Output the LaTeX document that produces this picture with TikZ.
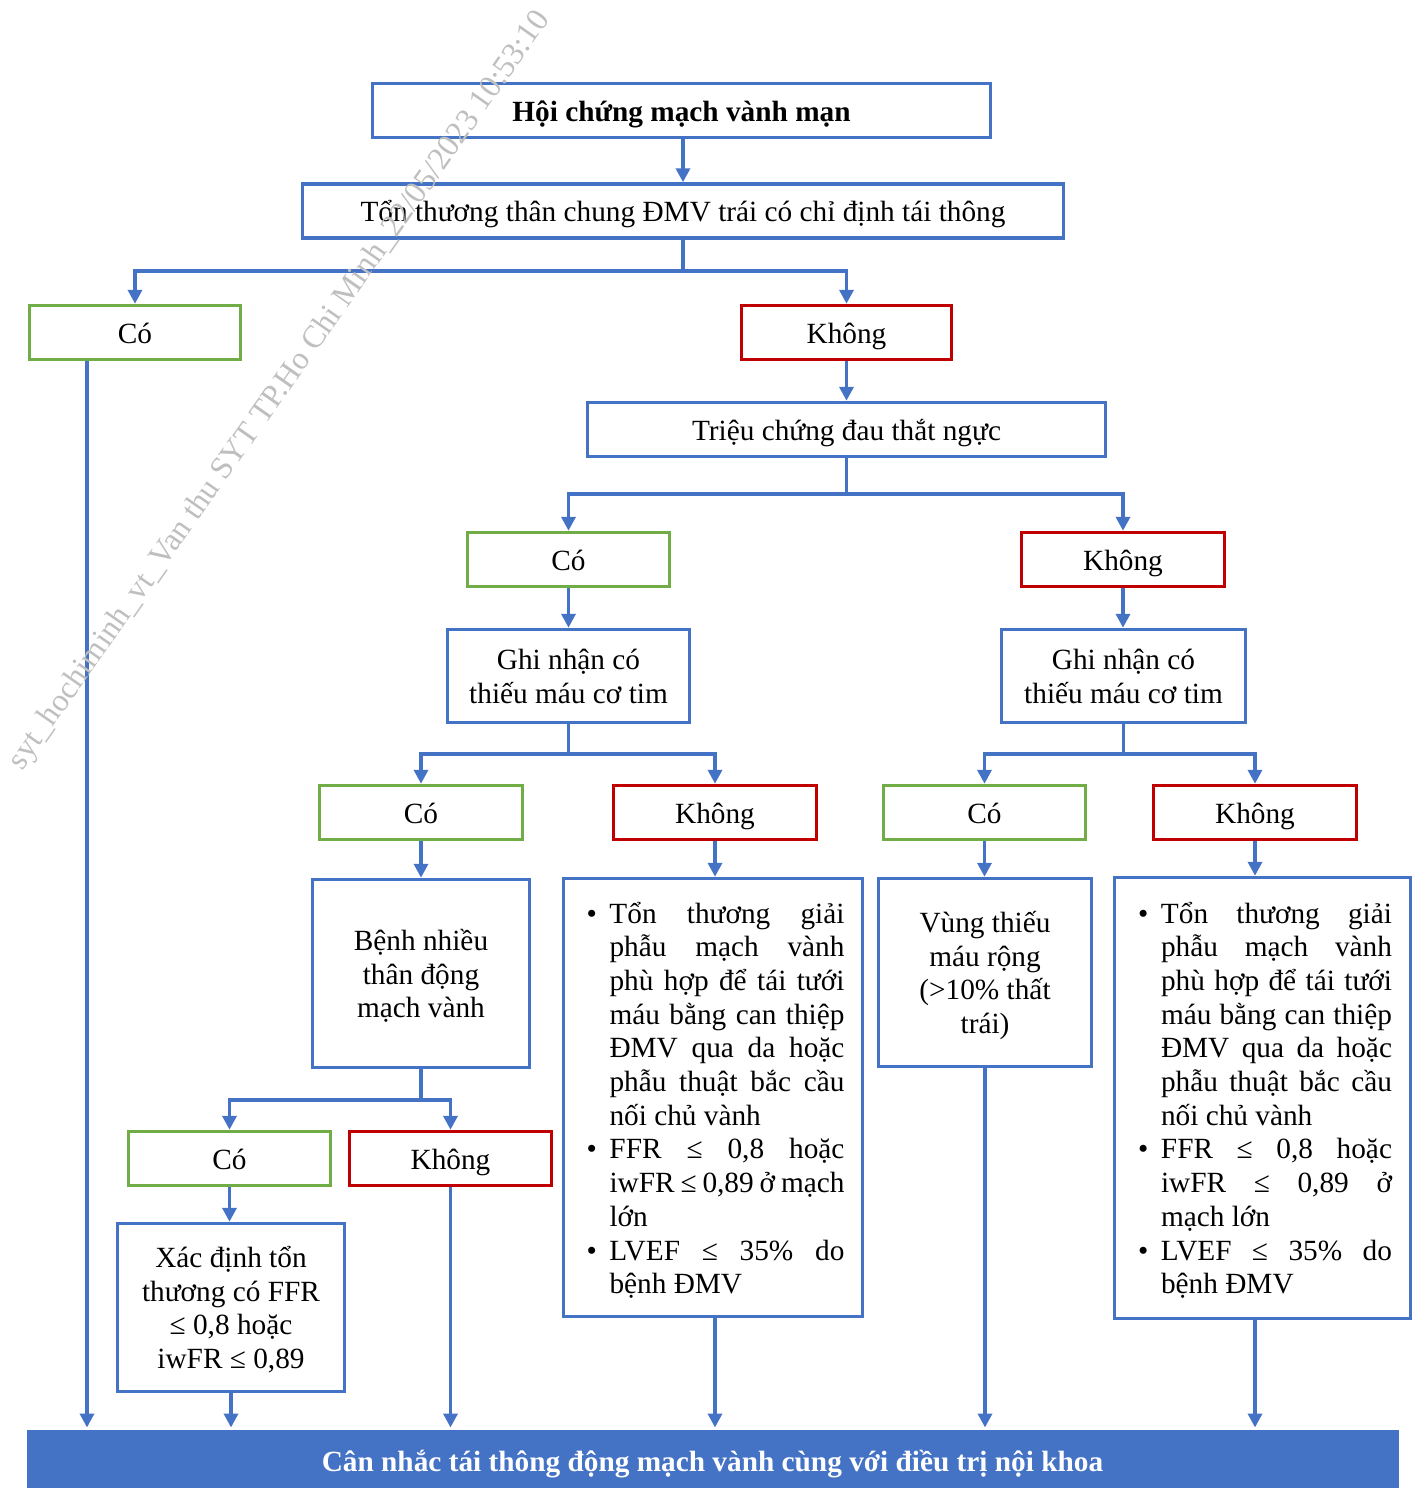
\documentclass[tikz,border=0pt]{standalone}
\usepackage{fontspec}
\setmainfont{Liberation Serif}
\usetikzlibrary{arrows.meta}
\definecolor{bl}{HTML}{4472C4}
\definecolor{gr}{HTML}{70AD47}
\definecolor{rd}{HTML}{C00000}
\newcommand\bitem[1]{\par\noindent\hangindent=28pt\hangafter=1\makebox[28pt][l]{\hspace{5pt}•}#1}
\newcommand\bullets[3]{\raisebox{0pt}[26pt][#2]{\parbox[t]{#1}{\lineskiplimit=-100pt\tolerance=10000\hbadness=10000\parindent=0pt #3}}}
\newcommand\ml[2]{\raisebox{0pt}[26pt][#1]{\vtop{\lineskiplimit=-100pt\halign{\hfil##\hfil\cr#2\crcr}}}}
\begin{document}
\begin{tikzpicture}[x=1pt,y=-1pt,
  box/.style={draw=bl, line width=3.5pt, inner sep=0pt, minimum height=54pt},
  one/.style={text height=26pt, text depth=5pt},
  yes/.style={box, one, draw=gr},
  no/.style={box, one, draw=rd},
  arr/.style={draw=bl, line width=3.5pt, -{Triangle[length=14pt,width=14pt]}},
  font=\fontsize{29.3}{33.7}\selectfont]
\useasboundingbox (0,0) rectangle (1419,1488);

\node[box, one, minimum width=618pt, font=\fontsize{29.3}{33.7}\selectfont\bfseries] (n1) at (681.5,110.5) {Hội chứng mạch vành mạn};
\node[box, one, minimum width=761pt] (n2) at (683,211) {Tổn thương thân chung ĐMV trái có chỉ định tái thông};
\node[yes, minimum width=211pt] (coA) at (135,332.5) {Có};
\node[no, minimum width=210pt] (koA) at (846.5,332.5) {Không};
\node[box, one, minimum width=518pt] (n3) at (846.5,429.5) {Triệu chứng đau thắt ngực};
\node[yes, minimum width=202pt] (coB) at (568.5,559.5) {Có};
\node[no, minimum width=203pt] (koB) at (1123,559.5) {Không};
\node[box, minimum width=242pt, minimum height=93pt] (ghiL) at (568.5,676) {\ml{38.7pt}{Ghi nhận có\cr thiếu máu cơ tim}};
\node[box, minimum width=244pt, minimum height=93pt] (ghiR) at (1123.5,676) {\ml{38.7pt}{Ghi nhận có\cr thiếu máu cơ tim}};
\node[yes, minimum width=203pt] (coC) at (421,812.5) {Có};
\node[no, minimum width=203pt] (koC) at (715,812.5) {Không};
\node[yes, minimum width=202pt] (coD) at (984.5,812.5) {Có};
\node[no, minimum width=203pt] (koD) at (1255,812.5) {Không};
\node[box, minimum width=217pt, minimum height=188pt] (benh) at (421,973.5) {\ml{72.4pt}{Bệnh nhiều\cr thân động\cr mạch vành}};
\node[box, minimum width=299pt, minimum height=438pt] (bulL) at (713,1097.5) {\bullets{263pt}{375pt}{%
\bitem{Tổn thương giải\linebreak phẫu mạch vành\linebreak phù hợp để tái tưới\linebreak máu bằng can thiệp\linebreak ĐMV qua da hoặc\linebreak phẫu thuật bắc cầu\linebreak nối chủ vành}
\bitem{FFR ≤ 0,8 hoặc\linebreak iwFR ≤ 0,89 ở mạch\linebreak lớn}
\bitem{LVEF ≤ 35\% do\linebreak bệnh ĐMV}}};
\node[box, minimum width=213pt, minimum height=188pt] (vung) at (985,972.5) {\ml{106.1pt}{Vùng thiếu\cr máu rộng\cr (>10\% thất\cr trái)}};
\node[box, minimum width=296pt, minimum height=441pt] (bulR) at (1262.5,1098) {\bullets{259pt}{376pt}{%
\bitem{Tổn thương giải\linebreak phẫu mạch vành\linebreak phù hợp để tái tưới\linebreak máu bằng can thiệp\linebreak ĐMV qua da hoặc\linebreak phẫu thuật bắc cầu\linebreak nối chủ vành}
\bitem{FFR ≤ 0,8 hoặc\linebreak iwFR ≤ 0,89 ở\linebreak mạch lớn}
\bitem{LVEF ≤ 35\% do\linebreak bệnh ĐMV}}};
\node[yes, minimum width=202pt] (coE) at (229.5,1158.5) {Có};
\node[no, minimum width=202pt] (koE) at (450.5,1158.5) {Không};
\node[box, minimum width=227pt, minimum height=168pt] (xac) at (231,1307.5) {\ml{106.1pt}{Xác định tổn\cr thương có FFR\cr ≤ 0,8 hoặc\cr iwFR ≤ 0,89}};
\node[fill=bl, draw=bl, line width=1pt, minimum width=1371pt, minimum height=58pt, inner sep=0pt, text=white, text height=26pt, text depth=0.6pt, font=\fontsize{29.3}{33.7}\selectfont\bfseries] (bar) at (712.5,1459) {Cân nhắc tái thông động mạch vành cùng với điều trị nội khoa};

% connectors
\draw[arr] (n2.north |- n1.south) -- (n2.north);
\draw[arr] (n2.south) -- (n2.south |- 0,271) -| (coA.north);
\draw[arr] (n2.south) -- (n2.south |- 0,271) -| (koA.north);
\draw[arr] (koA.south) -- (n3.north -| koA.south);
\draw[arr] (n3.south) -- (n3.south |- 0,494) -| (coB.north);
\draw[arr] (n3.south) -- (n3.south |- 0,494) -| (koB.north);
\draw[arr] (coB.south) -- (ghiL.north -| coB.south);
\draw[arr] (koB.south) -- (ghiR.north -| koB.south);
\draw[arr] (ghiL.south) -- (ghiL.south |- 0,754) -| (coC.north);
\draw[arr] (ghiL.south) -- (ghiL.south |- 0,754) -| (koC.north);
\draw[arr] (ghiR.south) -- (ghiR.south |- 0,754) -| (coD.north);
\draw[arr] (ghiR.south) -- (ghiR.south |- 0,754) -| (koD.north);
\draw[arr] (coC.south) -- (benh.north -| coC.south);
\draw[arr] (koC.south) -- (bulL.north -| koC.south);
\draw[arr] (coD.south) -- (vung.north -| coD.south);
\draw[arr] (koD.south) -- (bulR.north -| koD.south);
\draw[arr] (benh.south) -- (benh.south |- 0,1100) -| (coE.north);
\draw[arr] (benh.south) -- (benh.south |- 0,1100) -| (koE.north);
\draw[arr] (coE.south) -- (xac.north -| coE.south);
% to the bottom bar
\draw[arr, shorten >=2pt] (coA.south -| 87,0) -- (bar.north -| 87,0);
\draw[arr, shorten >=2pt] (xac.south) -- (bar.north -| xac.south);
\draw[arr, shorten >=2pt] (koE.south) -- (bar.north -| koE.south);
\draw[arr, shorten >=2pt] (bulL.south -| koC.south) -- (bar.north -| koC.south);
\draw[arr, shorten >=2pt] (vung.south) -- (bar.north -| vung.south);
\draw[arr, shorten >=2pt] (bulR.south -| koD.south) -- (bar.north -| koD.south);

% watermark
\node[text=black!25, rotate=54.9, inner sep=0pt, font=\fontsize{32}{32}\selectfont] (wm) at (280,391) {syt\_hochiminh\_vt\_Van thu SYT TP.Ho Chi Minh\_22/05/2023 10:53:10};
\end{tikzpicture}
\end{document}
